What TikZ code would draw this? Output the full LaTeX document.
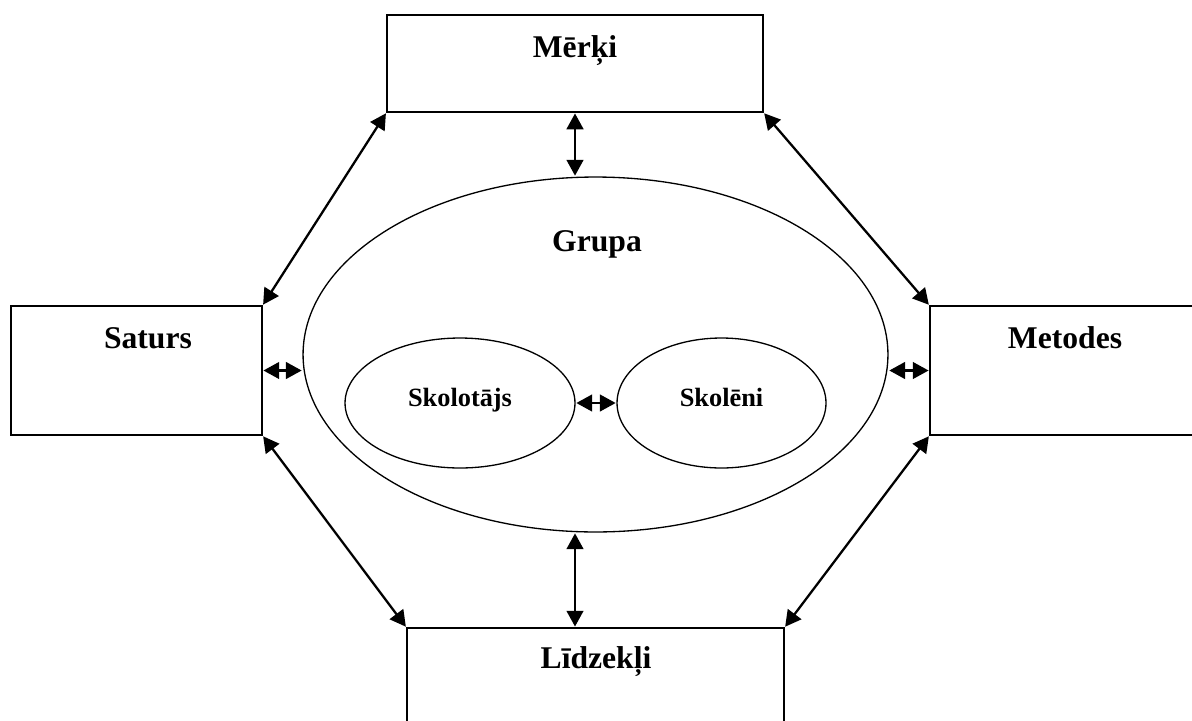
\documentclass[tikz,border=0pt]{standalone}
\usepackage{fontspec}
\setmainfont{Liberation Serif}
\usepackage{tikz}
\usetikzlibrary{shapes.geometric, arrows.meta, positioning, calc}
\tikzset{
    box_plain/.style={
        rectangle, draw=black, line width=0.85pt, fill=white,
        inner sep=0pt
    },
    ell_big/.style={
        ellipse, draw=black, line width=0.75pt,
        inner sep=0pt, minimum width=11.7cm, minimum height=7.1cm
    },
    ell_small/.style={
        ellipse, draw=black, line width=0.75pt,
        inner sep=0pt, minimum height=2.6cm,
        text height=0.75em, text depth=0.3em,
        font=\fontsize{15}{17}\selectfont\bfseries
    },
    lbl_big/.style={
        anchor=base, inner sep=0pt, font=\fontsize{18}{20}\selectfont\bfseries
    },
    link_arrow/.style={
        {Triangle[length=9pt,width=9.5pt]}-{Triangle[length=9pt,width=9.5pt]},
        draw=black, line width=1.3pt, shorten <=0.4pt, shorten >=0.4pt
    }
}

\begin{document}
\begin{tikzpicture}[x=0.02cm, y=-0.02cm]
    \useasboundingbox (0,0) rectangle (1192,720);

    % Boxes
    \node[box_plain, minimum width=7.52cm, minimum height=1.94cm] (merki) at (575, 63.5) {};
    \node[box_plain, minimum width=5.02cm, minimum height=2.58cm] (saturs) at (136.5, 370.5) {};
    \node[box_plain, minimum width=6.0cm, minimum height=2.58cm] (metodes) at (1080, 370.5) {};
    \node[box_plain, minimum width=7.54cm, minimum height=2.58cm] (lidzekli) at (595.5, 692.5) {};

    % Box labels
    \node[lbl_big] (merki_txt) at (575, 57) {Mērķi};
    \node[lbl_big] (saturs_txt) at (148, 348) {Saturs};
    \node[lbl_big] (metodes_txt) at (1065, 348) {Metodes};
    \node[lbl_big] (lidzekli_txt) at (596, 668) {Līdzekļi};

    % Group
    \node[ell_big] (grupa) at (595.5, 354.5) {};
    \node[lbl_big] (grupa_txt) at (597, 251) {Grupa};
    \node[ell_small, minimum width=4.6cm] (skolotajs) at (460, 403) {Skolotājs};
    \node[ell_small, minimum width=4.18cm] (skoleni) at (721.5, 403) {Skolēni\hspace{1.2em}};

    % Connectors
    \draw[link_arrow] (merki.south) -- (merki.south |- grupa.north);
    \draw[link_arrow] (merki.south |- grupa.south) -- (merki.south |- lidzekli.north);
    \draw[link_arrow] (merki.south west) -- (saturs.north east);
    \draw[link_arrow] (merki.south east) -- (metodes.north west);
    \draw[link_arrow] (saturs.south east) -- (lidzekli.north west);
    \draw[link_arrow] (metodes.south west) -- (lidzekli.north east);
    \draw[link_arrow] (saturs.east) -- (saturs.east -| grupa.west);
    \draw[link_arrow] (metodes.west) -- (metodes.west -| grupa.east);
    \draw[link_arrow] (skolotajs.east) -- (skoleni.west);
\end{tikzpicture}
\end{document}
